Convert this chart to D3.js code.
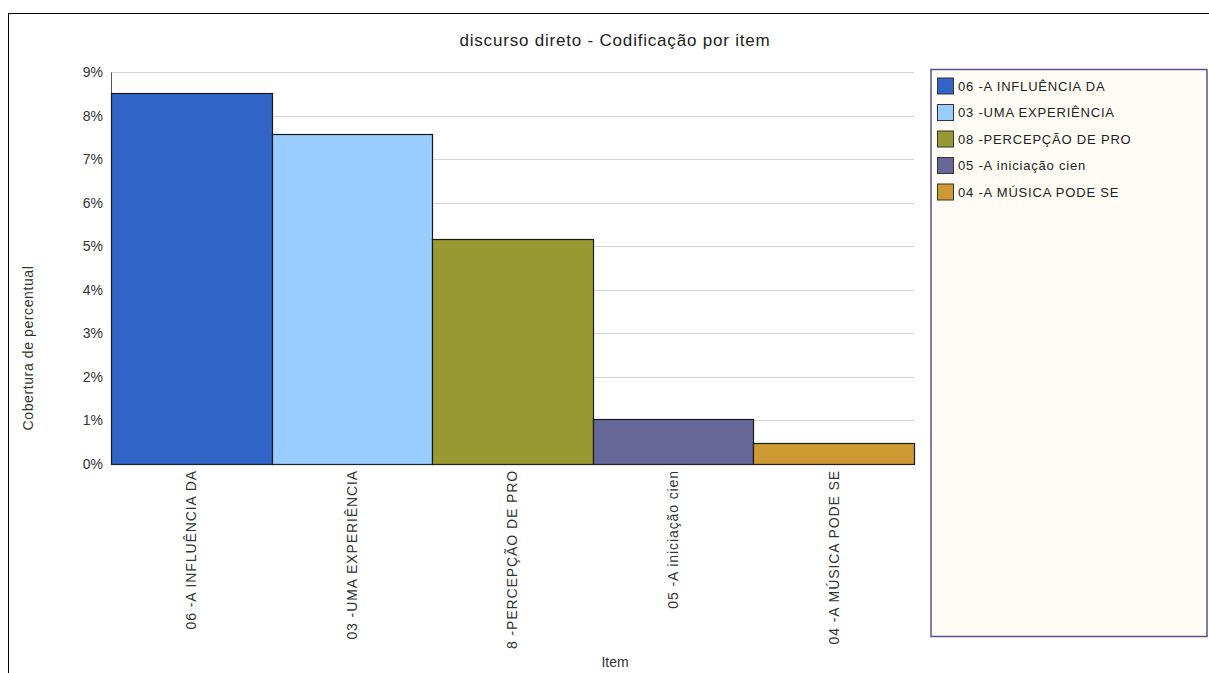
<!DOCTYPE html>
<html>
<head>
<meta charset="utf-8">
<script src="https://cdn.jsdelivr.net/npm/d3@7"></script>
<style>
  html, body { margin: 0; padding: 0; background: #fff; }
  svg { display: block; font-family: Arial, "Liberation Sans", sans-serif; }
</style>
</head>
<body>
<svg id="chart" width="1209" height="673"></svg>
<script>
// Coverage per item (percent)
const categories = [
  "06 -A INFLUÊNCIA DA",
  "03 -UMA EXPERIÊNCIA",
  "8 -PERCEPÇÃO DE PRO",
  "05 -A iniciação cien",
  "04 -A MÚSICA PODE SE"
];
const legendLabels = [
  "06 -A INFLUÊNCIA DA",
  "03 -UMA EXPERIÊNCIA",
  "08 -PERCEPÇÃO DE PRO",
  "05 -A iniciação cien",
  "04 -A MÚSICA PODE SE"
];
const values = [8.52, 7.58, 5.17, 1.03, 0.49];
const colors = ["#3264c8", "#99ccff", "#999933", "#666699", "#cc9933"];
const yTicks = [0, 1, 2, 3, 4, 5, 6, 7, 8, 9];

const FONT = "Arial, 'Liberation Sans', sans-serif";
const svg = d3.select("#chart");

const plot = { left: 111, right: 914, top: 72, bottom: 464 };

// outer frame
svg.append("rect")
  .attr("x", 8.5).attr("y", 13.5)
  .attr("width", 1220).attr("height", 700)
  .attr("fill", "#fff").attr("stroke", "#000").attr("stroke-width", 1);

// title
svg.append("text")
  .attr("x", 615).attr("y", 46)
  .attr("text-anchor", "middle")
  .attr("font-size", 17).attr("letter-spacing", 0.8).attr("fill", "#222")
  .text("discurso direto - Codificação por item");

const x = d3.scaleBand().domain(categories).range([plot.left, plot.right]).padding(0);
const y = d3.scaleLinear().domain([0, 9]).range([plot.bottom, plot.top]);

// gridlines
svg.append("g")
  .selectAll("line")
  .data(yTicks.filter(d => d > 0))
  .join("line")
  .attr("x1", plot.left).attr("x2", plot.right)
  .attr("y1", d => Math.round(y(d)) + 0.5).attr("y2", d => Math.round(y(d)) + 0.5)
  .attr("stroke", "#d4d4d4").attr("stroke-width", 1);

// y axis
const yAxis = svg.append("g")
  .attr("transform", `translate(${plot.left},0)`)
  .call(d3.axisLeft(y).tickValues(yTicks).tickFormat(d => d + "%").tickSize(0).tickPadding(8));
yAxis.select(".domain").attr("stroke", "#555");
yAxis.selectAll("text").attr("font-size", 14).attr("fill", "#333").attr("font-family", FONT);

// bars
svg.append("g")
  .selectAll("rect")
  .data(values)
  .join("rect")
  .attr("x", (d, i) => Math.round(x(categories[i])) + 0.5)
  .attr("y", d => Math.round(y(d)) + 0.5)
  .attr("width", (d, i) => Math.round(x(categories[i]) + x.bandwidth()) - Math.round(x(categories[i])))
  .attr("height", d => Math.round(y(0)) - Math.round(y(d)))
  .attr("fill", (d, i) => colors[i])
  .attr("stroke", "#1a1a1a").attr("stroke-width", 1.2);

// x axis baseline and rotated category labels
const xAxis = svg.append("g")
  .attr("transform", `translate(0,${plot.bottom})`)
  .call(d3.axisBottom(x).tickSize(0).tickPadding(0));
xAxis.select(".domain").attr("stroke", "#222");
xAxis.selectAll("text")
  .attr("font-size", 14).attr("letter-spacing", 0.9).attr("fill", "#333")
  .attr("font-family", FONT)
  .attr("text-anchor", "end")
  .attr("dy", "0.35em")
  .attr("transform", "translate(0,6) rotate(-90)")
  .attr("x", 0).attr("y", 0);

// axis titles
svg.append("text")
  .attr("x", 615).attr("y", 667)
  .attr("text-anchor", "middle")
  .attr("font-size", 14).attr("fill", "#333")
  .text("Item");
svg.append("text")
  .attr("transform", "translate(33,348) rotate(-90)")
  .attr("text-anchor", "middle")
  .attr("font-size", 14).attr("letter-spacing", 0.6).attr("fill", "#333")
  .text("Cobertura de percentual");

// legend
const legend = svg.append("g");
legend.append("rect")
  .attr("x", 931).attr("y", 69.5)
  .attr("width", 276).attr("height", 567)
  .attr("fill", "#fffcf5").attr("stroke", "#5a5090").attr("stroke-width", 1.5);
const items = legend.selectAll("g.item")
  .data(legendLabels)
  .join("g")
  .attr("class", "item")
  .attr("transform", (d, i) => `translate(937,${86 + i * 26.5})`);
items.append("rect")
  .attr("x", 0.5).attr("y", -8)
  .attr("width", 16).attr("height", 16)
  .attr("fill", (d, i) => colors[i])
  .attr("stroke", "#333").attr("stroke-width", 1);
items.append("text")
  .attr("x", 21).attr("y", 0)
  .attr("dy", "0.35em")
  .attr("font-size", 13).attr("letter-spacing", 0.8).attr("fill", "#222")
  .text(d => d);
</script>
</body>
</html>
